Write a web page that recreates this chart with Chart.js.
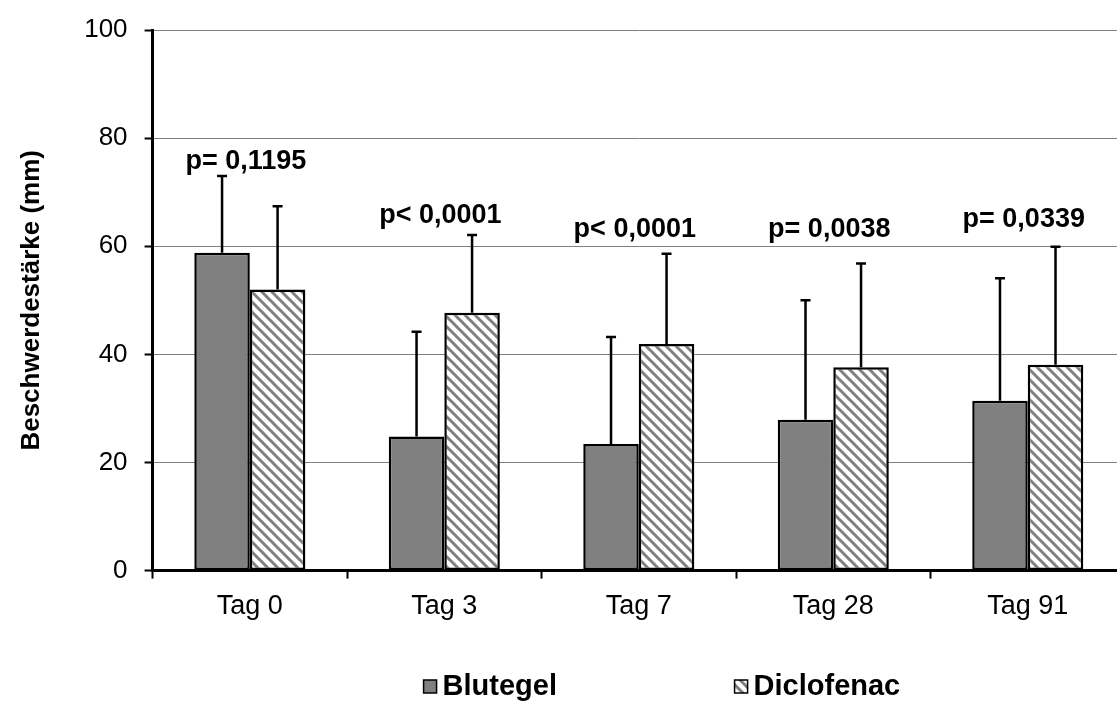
<!DOCTYPE html>
<html>
<head>
<meta charset="utf-8">
<script src="https://cdn.jsdelivr.net/npm/chart.js@4.4.1/dist/chart.umd.min.js"></script>
<style>
  html, body { margin: 0; padding: 0; background: #fff; overflow: hidden; }
  #wrap { width: 1117px; height: 702px; overflow: hidden; }
</style>
</head>
<body>
<div id="wrap"><canvas id="myChart" width="1130" height="702"></canvas></div>
<script>
const categories = ['Tag 0', 'Tag 3', 'Tag 7', 'Tag 28', 'Tag 91'];
const blutegel = [58.8, 24.8, 23.4, 27.9, 31.4];
const blutegelSD = [14.2, 19.4, 19.8, 22.1, 22.7];
const diclofenac = [52.0, 47.7, 41.9, 37.6, 38.1];
const diclofenacSD = [15.4, 14.4, 16.7, 19.2, 21.8];
const pLabels = ['p= 0,1195', 'p< 0,0001', 'p< 0,0001', 'p= 0,0038', 'p= 0,0339'];
const pLabelY = [75.6, 65.7, 63.1, 63.1, 64.9];
const yTicks = [0, 20, 40, 60, 80, 100];

const FONT = 'Liberation Sans, Arial, sans-serif';

// diagonal hatch for Diclofenac
function makeHatch() {
  const pc = document.createElement('canvas');
  pc.width = 10; pc.height = 10;
  const g = pc.getContext('2d');
  g.fillStyle = '#fff';
  g.fillRect(0, 0, 10, 10);
  g.strokeStyle = '#808080';
  g.lineWidth = 3;
  g.beginPath();
  g.moveTo(-5, -5); g.lineTo(15, 15);
  g.moveTo(-5, 5); g.lineTo(5, 15);
  g.moveTo(5, -5); g.lineTo(15, 5);
  g.stroke();
  return g.createPattern(pc, 'repeat');
}
const hatch = makeHatch();

// upper error whiskers
const errorBars = {
  id: 'errorBars',
  afterDatasetsDraw(chart) {
    const ctx = chart.ctx;
    const y = chart.scales.y;
    ctx.save();
    ctx.strokeStyle = '#000';
    ctx.lineWidth = 2.5;
    chart.data.datasets.forEach((ds, i) => {
      chart.getDatasetMeta(i).data.forEach((bar, j) => {
        const top = y.getPixelForValue(ds.data[j] + ds.sd[j]);
        ctx.beginPath();
        ctx.moveTo(bar.x, bar.y);
        ctx.lineTo(bar.x, top);
        ctx.moveTo(bar.x - 5, top);
        ctx.lineTo(bar.x + 5, top);
        ctx.stroke();
      });
    });
    ctx.restore();
  }
};

// p-values over each group
const pValues = {
  id: 'pValues',
  afterDraw(chart) {
    const ctx = chart.ctx;
    ctx.save();
    ctx.font = 'bold 27px ' + FONT;
    ctx.fillStyle = '#000';
    ctx.textAlign = 'center';
    ctx.textBaseline = 'middle';
    pLabels.forEach((txt, j) => {
      ctx.fillText(txt, chart.scales.x.getPixelForValue(j) - 4, chart.scales.y.getPixelForValue(pLabelY[j]));
    });
    ctx.restore();
  }
};

// legend below the axis
const bottomLegend = {
  id: 'bottomLegend',
  afterDraw(chart) {
    const ctx = chart.ctx;
    const area = chart.chartArea;
    const xs = [area.left + 271, area.left + 582];
    const base = chart.height - 7;
    ctx.save();
    ctx.font = 'bold 29px ' + FONT;
    ctx.textBaseline = 'alphabetic';
    chart.data.datasets.forEach((ds, i) => {
      const x = xs[i];
      ctx.fillStyle = ds.backgroundColor;
      ctx.fillRect(x, base - 15, 13, 13);
      ctx.strokeStyle = '#000';
      ctx.lineWidth = 1.5;
      ctx.strokeRect(x, base - 15, 13, 13);
      ctx.fillStyle = '#000';
      ctx.fillText(ds.label, x + 19, base);
    });
    ctx.restore();
  }
};

const ctx = document.getElementById('myChart').getContext('2d');
const chart = new Chart(ctx, {
  type: 'bar',
  data: {
    labels: categories,
    datasets: [
      {
        label: 'Blutegel',
        data: blutegel,
        sd: blutegelSD,
        backgroundColor: '#808080',
        borderColor: '#000',
        borderWidth: 2.5,
        borderSkipped: false
      },
      {
        label: 'Diclofenac',
        data: diclofenac,
        sd: diclofenacSD,
        backgroundColor: hatch,
        borderColor: '#000',
        borderWidth: 2.5,
        borderSkipped: false
      }
    ]
  },
  options: {
    responsive: false,
    animation: false,
    categoryPercentage: 0.571,
    barPercentage: 1.0,
    layout: {
      padding: { top: 26, right: 5, bottom: 67, left: 0 }
    },
    plugins: {
      legend: { display: false },
      tooltip: { enabled: false }
    },
    scales: {
      x: {
        grid: {
          display: true,
          drawOnChartArea: false,
          offset: true,
          tickLength: 8,
          tickWidth: 2,
          tickColor: '#000'
        },
        border: { color: '#000', width: 3 },
        ticks: {
          color: '#000',
          padding: 12,
          font: { family: FONT, size: 27 }
        }
      },
      y: {
        min: 0,
        max: 100,
        afterBuildTicks: scale => {
          scale.ticks = yTicks.map(v => ({ value: v }));
        },
        grid: {
          color: '#808080',
          lineWidth: 1,
          tickLength: 8,
          tickWidth: 2,
          tickColor: '#000'
        },
        border: { color: '#000', width: 3 },
        ticks: {
          color: '#000',
          padding: 17,
          font: { family: FONT, size: 26, lineHeight: 1.0 }
        },
        title: {
          display: true,
          text: 'Beschwerdestärke (mm)',
          color: '#000',
          padding: { top: 16, bottom: 20 },
          font: { family: FONT, size: 26, weight: 'bold' }
        }
      }
    }
  },
  plugins: [errorBars, pValues, bottomLegend]
});
</script>
</body>
</html>
